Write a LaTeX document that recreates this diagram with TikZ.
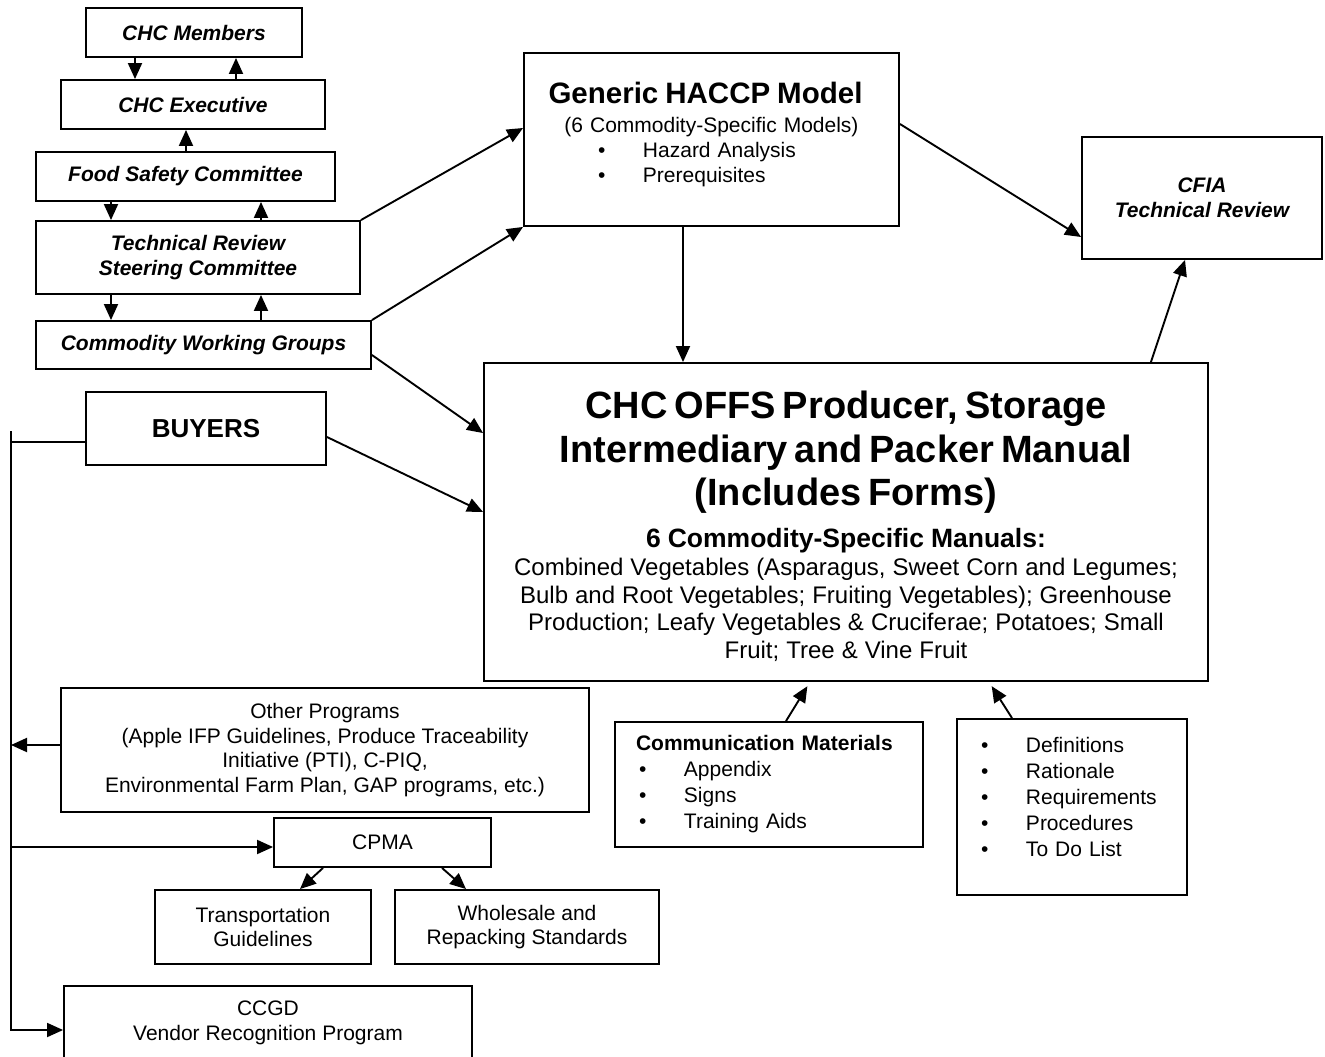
\documentclass[tikz,border=0pt]{standalone}
\usepackage{fontspec}
\setmainfont{Liberation Sans}
\usetikzlibrary{arrows.meta, calc}
\setlength{\parindent}{0pt}

\newcommand{\fsz}[2]{\fontsize{#1pt}{#2pt}\selectfont}
\newcommand{\bpt}[1]{\makebox[48pt][l]{\hspace{3pt}\textbullet}#1}

\begin{document}
\begin{tikzpicture}[
    x=1pt, y=-1pt,
    box/.style={
      rectangle, draw, line width=1.9pt, inner sep=0pt,
      align=center, font=\fsz{21}{25}
    },
    org/.style={box, font=\fsz{21}{25}\bfseries\itshape},
    listbox/.style={box, align=left, inner xsep=21pt, text width=#1},
    arr/.style={-{Triangle[length=16pt, width=14pt]}, line width=1.9pt},
    wire/.style={line width=#1},
    wire/.default=1.9pt,
  ]
  \useasboundingbox (0,0) rectangle (1325,1057);
  \clip (0,0) rectangle (1325,1057);

  %% ── Committee stack (left column, top → bottom) ──────────────────────
  \node[org, minimum width=216pt, minimum height=49pt] (members) at (194,32.5)   {CHC Members};
  \node[org, minimum width=264pt, minimum height=49pt] (exec)    at (193,104.5)  {CHC Executive};
  \node[org, minimum width=299pt, minimum height=49pt] (fsc)     at (185.5,176.5) {Food Safety Committee};
  \node[org, minimum width=324pt, minimum height=73pt] (trsc)    at (198,257.5)  {Technical Review\\Steering Committee};
  \node[org, minimum width=335pt, minimum height=48pt] (cwg)     at (203.5,345)  {Commodity Working Groups};
  \node[box, font=\fsz{26}{30}\bfseries,
        minimum width=240pt, minimum height=73pt]     (buyers)  at (206,428.5)  {BUYERS};

  %% ── Model, manual and review ─────────────────────────────────────────
  \node[box, text width=375pt, minimum height=173pt] (haccp) at (711.5,139.5) {%
    {\fsz{29.5}{29.5}\bfseries Generic HACCP Model\kern12pt\par}
    {\fsz{21}{29}(6 Commodity-Specific Models)\par}
    {\fsz{21}{25}\makebox[375pt][l]{\hspace{71pt}\bpt{Hazard Analysis}}\\
     \makebox[375pt][l]{\hspace{71pt}\bpt{Prerequisites}}\par}
    \kern11pt};
  \node[org, minimum width=240pt, minimum height=122pt] (cfia) at (1202,198) {CFIA\\Technical Review};

  \node[box, text width=724pt, minimum height=318pt] (manual) at (846,522) {%
    {\fsz{38}{43.3}\bfseries CHC OFFS Producer, Storage\\
      Intermediary and Packer Manual\\ (Includes Forms)\par}
    {\fsz{26.5}{41.7}\bfseries 6 Commodity-Specific Manuals:\par}
    {\fsz{24}{27.5}\vspace{0.9pt}Combined Vegetables (Asparagus, Sweet Corn and Legumes;\\
      Bulb and Root Vegetables; Fruiting Vegetables); Greenhouse\\
      Production; Leafy Vegetables \& Cruciferae; Potatoes; Small\\
      Fruit; Tree \& Vine Fruit\par}
    \kern-8.6pt};

  %% ── Manual parts (under the manual) ──────────────────────────────────
  \node[listbox=266pt, minimum height=125pt, font=\fsz{21}{26}] (comm) at (769,784.5) {%
    \textbf{Communication Materials}\\ \bpt{Appendix}\\ \bpt{Signs}\\ \bpt{Training Aids}};
  \node[listbox=188pt, minimum height=176pt, font=\fsz{21}{26}] (content) at (1072,807) {%
    \bpt{Definitions}\\ \bpt{Rationale}\\ \bpt{Requirements}\\ \bpt{Procedures}\\ \bpt{To Do List}\par
    \kern20pt};

  %% ── Buyer programs (bottom left) ─────────────────────────────────────
  \node[box, font=\fsz{21}{24.7}, minimum width=528pt, minimum height=124pt] (others) at (325,750)
    {Other Programs\\(Apple IFP Guidelines, Produce Traceability\\Initiative (PTI), C-PIQ,\\Environmental Farm Plan, GAP programs, etc.)};
  \node[box, minimum width=217pt, minimum height=49pt] (cpma) at (382.5,842.5) {CPMA};
  \node[box, font=\fsz{21}{24}, minimum width=216pt, minimum height=74pt] (transport) at (263,927) {Transportation\\Guidelines};
  \node[box, font=\fsz{21}{24}, minimum width=264pt, minimum height=74pt] (wholesale) at (527,927) {Wholesale and\\Repacking Standards};
  \node[box, minimum width=408pt, minimum height=74pt] (ccgd) at (268,1023) {CCGD\\Vendor Recognition Program};

  %% ── Stack arrows ─────────────────────────────────────────────────────
  \coordinate (downA) at (135,0);
  \coordinate (upA)   at (236,0);
  \coordinate (upB)   at (186,0);
  \coordinate (downB) at (111,0);
  \coordinate (upC)   at (261,0);
  \draw[arr] (members.south -| downA) -- (exec.north -| downA);
  \draw[arr] (exec.north -| upA)      -- (members.south -| upA);
  \draw[arr] (fsc.north -| upB)       -- (exec.south -| upB);
  \draw[arr] (fsc.south -| downB)     -- (trsc.north -| downB);
  \draw[arr] (trsc.north -| upC)      -- (fsc.south -| upC);
  \draw[arr] (trsc.south -| downB)    -- (cwg.north -| downB);
  \draw[arr] (cwg.north -| upC)       -- (trsc.south -| upC);

  %% ── Into the model and the manual ────────────────────────────────────
  \coordinate (gx) at (683,0);
  \draw[arr] (trsc.north east) -- ([yshift=11.5pt]haccp.west);
  \draw[arr] (cwg.north east)  -- (haccp.south west);
  \draw[arr] ([yshift=-10pt]cwg.east)   -- ([yshift=-71pt]manual.north west);
  \draw[arr] ([yshift=-8.5pt]buyers.east) -- ([yshift=10pt]manual.west);
  \draw[arr] (haccp.south -| gx) -- (manual.north -| gx);

  %% ── Review ───────────────────────────────────────────────────────────
  \draw[arr] ([yshift=15.5pt]haccp.east) -- ([yshift=-39pt]cfia.west);
  \draw[arr] ([xshift=-58pt]manual.north east) -- ([xshift=-17pt]cfia.south);

  %% ── Parts up into the manual ─────────────────────────────────────────
  \draw[arr, shorten >=5pt] ([xshift=17pt]comm.north)    -- ([xshift=-36pt]manual.south);
  \draw[arr, shorten >=5pt] ([xshift=-60pt]content.north) -- ([xshift=143pt]manual.south);

  %% ── CPMA split ───────────────────────────────────────────────────────
  \draw[arr] ([xshift=-59.5pt]cpma.south) -- ([xshift=37pt]transport.north);
  \draw[arr] ([xshift=59.5pt]cpma.south)  -- ([xshift=-61pt]wholesale.north);

  %% ── Buyers rail (left edge) ──────────────────────────────────────────
  \coordinate (rail)      at (11,431);
  \coordinate (buyOut)    at ([xshift=2pt, yshift=-13.5pt]buyers.west);
  \coordinate (othersOut) at ([yshift=5pt]others.west);
  \coordinate (cpmaIn)    at ([yshift=-4.5pt]cpma.west);
  \coordinate (ccgdIn)    at ([yshift=-7pt]ccgd.west);
  \draw[wire=1.2pt] (buyOut) -- (buyOut -| rail);
  \draw[arr] (rail) |- (ccgdIn);
  \draw[arr] (othersOut) -- (othersOut -| rail);
  \draw[arr] (cpmaIn -| rail) -- (cpmaIn);

\end{tikzpicture}
\end{document}
